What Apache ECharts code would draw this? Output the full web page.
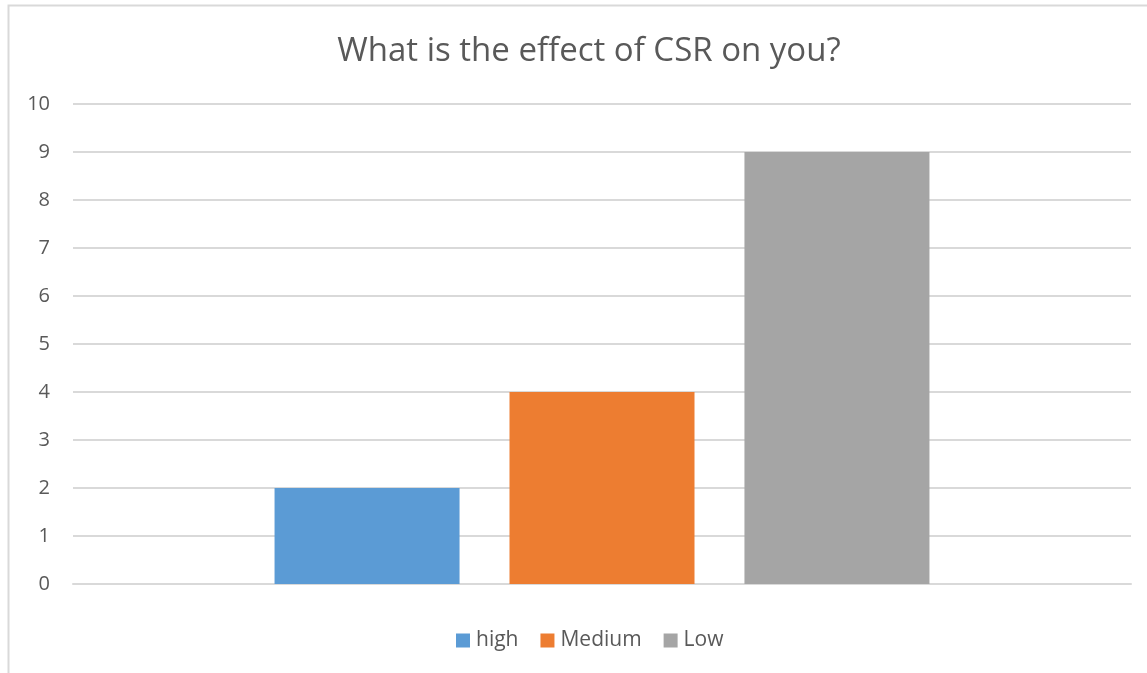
<!DOCTYPE html>
<html>
<head>
<meta charset="utf-8">
<script src="https://cdn.jsdelivr.net/npm/echarts@6/dist/echarts.min.js"></script>
<style>
  html, body { margin: 0; padding: 0; background: #fff; }
  #chart { width: 1147px; height: 673px; }
</style>
</head>
<body>
<div id="chart"></div>
<script>
// Survey answers: one category, one series per answer level
const categories = ['What is the effect of CSR on you?'];
const seriesNames = ['high', 'Medium', 'Low'];
const highValues = [2];
const mediumValues = [4];
const lowValues = [9];
const yTicks = [0, 1, 2, 3, 4, 5, 6, 7, 8, 9, 10];

const colors = ['#5b9bd5', '#ed7d31', '#a5a5a5'];
const font = '"Open Sans", "Liberation Sans", sans-serif';

const chart = echarts.init(document.getElementById('chart'), null, { renderer: 'canvas' });

const valueLists = [highValues, mediumValues, lowValues];

chart.setOption({
  animation: false,
  backgroundColor: '#ffffff',
  title: {
    text: 'What is the effect of CSR on you?',
    left: 584,
    textAlign: 'center',
    top: 30,
    textStyle: { fontFamily: font, fontSize: 33, fontWeight: 'normal', color: '#595959' }
  },
  graphic: [{
    type: 'rect',
    shape: { x: 8.5, y: 5.5, width: 1160, height: 700 },
    style: { fill: 'none', stroke: '#d9d9d9', lineWidth: 2 },
    silent: true
  }],
  legend: {
    data: seriesNames,
    left: 451,
    top: 625,
    itemWidth: 14,
    itemHeight: 14,
    itemGap: 22,
    icon: 'rect',
    textStyle: { fontFamily: font, fontSize: 21, color: '#595959', padding: [0, 0, 0, 1] }
  },
  grid: { left: 73, right: 16, top: 104, bottom: 89, containLabel: false },
  xAxis: {
    type: 'category',
    data: categories,
    axisLine: { show: true, lineStyle: { color: '#d9d9d9', width: 2 } },
    axisTick: { show: false },
    axisLabel: { show: false },
    splitLine: { show: false }
  },
  yAxis: {
    type: 'value',
    min: yTicks[0],
    max: yTicks[yTicks.length - 1],
    interval: 1,
    axisLine: { show: false },
    axisTick: { show: false },
    axisLabel: { fontFamily: font, fontSize: 20, color: '#595959', margin: 23 },
    splitLine: { lineStyle: { color: '#d9d9d9', width: 2 } }
  },
  series: seriesNames.map((name, i) => ({
    name: name,
    type: 'bar',
    data: valueLists[i],
    barWidth: 185,
    barGap: '27%',
    itemStyle: { color: colors[i] }
  }))
});
</script>
</body>
</html>
